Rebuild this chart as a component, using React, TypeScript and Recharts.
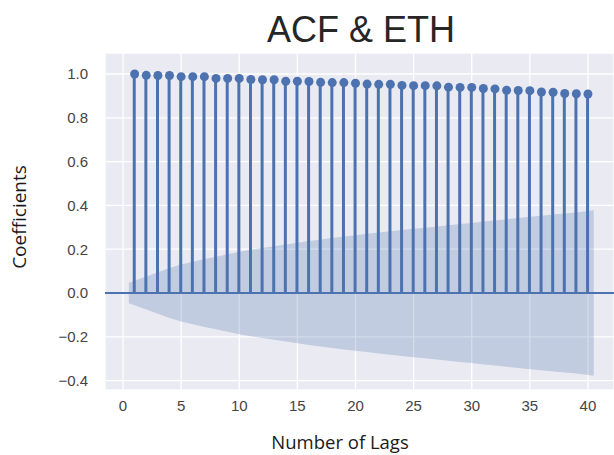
import {
  ComposedChart,
  Area,
  Bar,
  Scatter,
  XAxis,
  YAxis,
  CartesianGrid,
  ReferenceLine,
} from "recharts";

const lags = [
  1, 2, 3, 4, 5, 6, 7, 8, 9, 10, 11, 12, 13, 14, 15, 16, 17, 18, 19, 20,
  21, 22, 23, 24, 25, 26, 27, 28, 29, 30, 31, 32, 33, 34, 35, 36, 37, 38, 39, 40,
];

const acfValues = [
  1.0, 0.994, 0.993, 0.993, 0.988, 0.988, 0.988, 0.98, 0.98, 0.98,
  0.975, 0.974, 0.974, 0.967, 0.967, 0.966, 0.962, 0.961, 0.961, 0.958,
  0.954, 0.953, 0.953, 0.948, 0.947, 0.947, 0.946, 0.94, 0.939, 0.939,
  0.934, 0.932, 0.926, 0.925, 0.924, 0.918, 0.917, 0.911, 0.91, 0.909,
];

// half width of the shaded confidence band at each lag
const confWidth = [
  0.047, 0.075, 0.095, 0.114, 0.13, 0.143, 0.155, 0.166, 0.177, 0.188,
  0.197, 0.206, 0.214, 0.222, 0.23, 0.237, 0.244, 0.251, 0.258, 0.264,
  0.27, 0.276, 0.282, 0.288, 0.293, 0.298, 0.304, 0.309, 0.315, 0.32,
  0.326, 0.331, 0.337, 0.342, 0.348, 0.353, 0.358, 0.363, 0.368, 0.378,
];

const xTicks = [0, 5, 10, 15, 20, 25, 30, 35, 40];
const yTicks = [-0.4, -0.2, 0, 0.2, 0.4, 0.6, 0.8, 1.0];

const BLUE = "#4C72B0";
const last = lags.length - 1;

// band is stretched half a lag past the first and last stem (statsmodels style)
const rows = [
  { lag: lags[0] - 0.5, band: [-confWidth[0], confWidth[0]] },
  ...lags.map((lag, i) => ({
    lag,
    acf: acfValues[i],
    band: i === 0 || i === last ? null : [-confWidth[i], confWidth[i]],
  })),
  { lag: lags[last] + 0.5, band: [-confWidth[last], confWidth[last]] },
];

const points = lags.map((lag, i) => ({ lag, acf: acfValues[i] }));

const fmtY = (v: number) => v.toFixed(1).replace("-", "\u2212");

const tickStyle = { fontFamily: "Liberation Sans, Arial, sans-serif", fontSize: 15, fill: "#444" };

export default function App() {
  return (
    <div style={{ position: "absolute", left: 0, top: 0, width: 614, height: 455, background: "#fff", overflow: "hidden" }}>
      <div
        style={{
          position: "absolute",
          left: 211,
          width: 300,
          top: 12,
          textAlign: "center",
          fontFamily: "Liberation Sans, Arial, sans-serif",
          fontSize: 36,
          lineHeight: "36px",
          color: "#262626",
        }}
      >
        ACF &amp; ETH
      </div>
      <ComposedChart
        width={614}
        height={455}
        data={rows}
        margin={{ top: 53, right: 0, bottom: 0, left: 0 }}
      >
        <CartesianGrid fill="#EAEAF2" stroke="#fff" strokeWidth={1.3} />
        <XAxis
          dataKey="lag"
          type="number"
          domain={[-1.55, 42.24]}
          allowDataOverflow
          ticks={xTicks}
          axisLine={false}
          tickLine={false}
          tickSize={0}
          tickMargin={10}
          height={65}
          tick={tickStyle}
        />
        <YAxis
          type="number"
          domain={[-0.443, 1.096]}
          allowDataOverflow
          ticks={yTicks}
          tickFormatter={fmtY}
          axisLine={false}
          tickLine={false}
          tickSize={0}
          tickMargin={17}
          width={105}
          tick={tickStyle}
        />
        <Area
          dataKey="band"
          type="linear"
          stroke="none"
          fill={BLUE}
          fillOpacity={0.25}
          connectNulls
          isAnimationActive={false}
        />
        <Bar dataKey="acf" fill={BLUE} barSize={3} isAnimationActive={false} />
        <ReferenceLine y={0} stroke={BLUE} strokeWidth={2} />
        <Scatter data={points} dataKey="acf" fill={BLUE} shape={(p: any) => <circle cx={p.cx} cy={p.cy} r={4.5} fill={BLUE} />} isAnimationActive={false} />
      </ComposedChart>
      <div
        style={{
          position: "absolute",
          left: 19,
          top: 217,
          transform: "translate(-50%, -50%) rotate(-90deg)",
          whiteSpace: "nowrap",
          fontFamily: "Open Sans, sans-serif",
          fontSize: 19,
          lineHeight: "19px",
          color: "#1a1a1a",
        }}
      >
        Coefficients
      </div>
      <div
        style={{
          position: "absolute",
          left: 190,
          width: 300,
          top: 432,
          textAlign: "center",
          fontFamily: "Open Sans, sans-serif",
          fontSize: 18.5,
          lineHeight: "19px",
          color: "#1a1a1a",
        }}
      >
        Number of Lags
      </div>
    </div>
  );
}
